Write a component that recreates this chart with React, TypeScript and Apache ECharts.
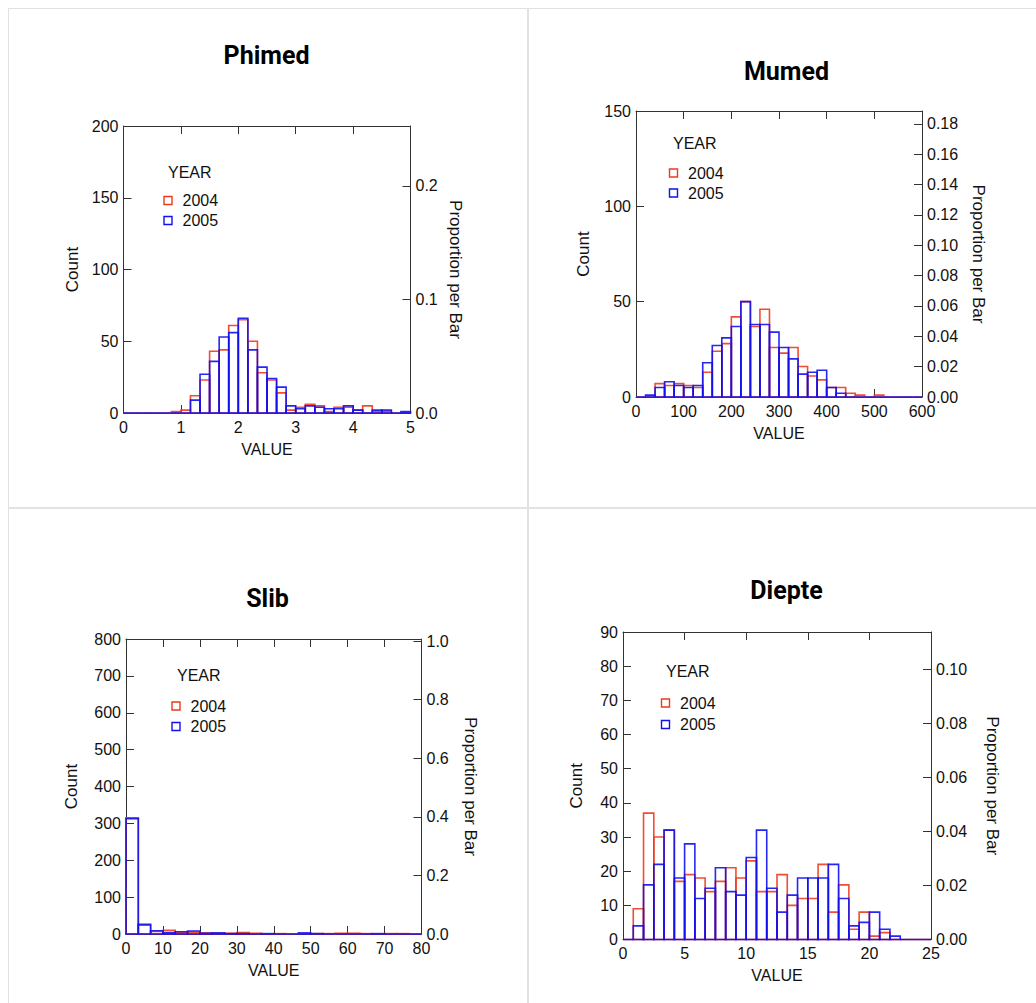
import React, { useEffect, useRef } from "react";
import * as echarts from "echarts";

// ---------- DATA ----------
const YEARS = ["2004", "2005"];

// Phimed: 30 bins of width 1/6 from 0 to 5
const PHIMED_BIN_WIDTH = 1 / 6;
const PHIMED_2004 = [0, 0, 0, 0, 0, 1, 2, 12, 23, 43, 44, 61, 65, 50, 28, 23, 14, 2, 4, 6, 5, 1, 4, 4, 2, 5, 1, 1, 0, 0];
const PHIMED_2005 = [0, 0, 0, 0, 0, 0, 0, 9, 27, 36, 53, 56, 66, 44, 32, 24, 18, 5, 3, 5, 4, 3, 3, 5, 2, 0, 2, 2, 0, 1];

// Mumed: 30 bins of width 20 from 0 to 600
const MUMED_BIN_WIDTH = 20;
const MUMED_2004 = [0, 0, 7, 6, 7, 6, 5, 13, 24, 28, 42, 50, 37, 46, 26, 23, 26, 16, 11, 9, 5, 5, 2, 1, 0, 1, 0, 0, 0, 0];
const MUMED_2005 = [0, 1, 5, 8, 6, 5, 6, 18, 27, 31, 37, 50, 38, 38, 34, 26, 20, 12, 13, 14, 5, 2, 0, 0, 0, 0, 0, 0, 0, 0];

// Slib: 24 bins of width 10/3 from 0 to 80
const SLIB_BIN_WIDTH = 10 / 3;
const SLIB_2004 = [315, 24, 7, 10, 4, 5, 3, 2, 2, 4, 2, 0, 1, 0, 0, 1, 1, 2, 2, 1, 0, 1, 1, 0];
const SLIB_2005 = [313, 26, 9, 4, 6, 8, 2, 3, 1, 1, 0, 1, 0, 0, 3, 1, 0, 0, 0, 0, 1, 0, 0, 0];

// Diepte: 30 bins of width 5/6 from 0 to 25
const DIEPTE_BIN_WIDTH = 5 / 6;
const DIEPTE_2004 = [0, 9, 37, 30, 32, 17, 19, 18, 14, 17, 21, 18, 23, 14, 14, 19, 10, 12, 12, 22, 8, 16, 3, 8, 1, 2, 0, 0, 0, 0];
const DIEPTE_2005 = [0, 4, 16, 22, 32, 18, 28, 12, 15, 21, 14, 13, 24, 32, 15, 8, 13, 18, 18, 18, 22, 12, 4, 5, 8, 3, 1, 0, 0, 0];

// Axis scales [min, max, interval, (decimals)]
const PHIMED_X = [0, 5, 1];
const PHIMED_Y = [0, 200, 50];
const PHIMED_P = [0, 0.2527, 0.1, 1];
const MUMED_X = [0, 600, 100];
const MUMED_Y = [0, 150, 50];
const MUMED_P = [0, 0.1885, 0.02, 2];
const SLIB_X = [0, 80, 10];
const SLIB_Y = [0, 800, 100];
const SLIB_P = [0, 1.007, 0.2, 1];
const DIEPTE_X = [0, 25, 5];
const DIEPTE_Y = [0, 90, 10];
const DIEPTE_P = [0, 0.1138, 0.02, 2];

// ---------- STYLE / LAYOUT ----------
const RED = "#ee3a1c";
const BLUE = "#1010f2";
const AXIS = "#333333";
const TEXT = "#111111";
const FONT = "'Liberation Sans', Arial, sans-serif";

type Panel = {
  title: string;
  titleX: number;
  titleY: number;
  grid: { left: number; top: number; width: number; height: number };
  x: number[];
  y: number[];
  p: number[];
  bin: number;
  a: number[];
  b: number[];
  countGap: number;
  propGap: number;
  leg: { x: number; yearY: number; y1: number; y2: number; yearX: number };
};

const PANELS: Panel[] = [
  {
    title: "Phimed", titleX: 266.5, titleY: 55,
    grid: { left: 123.5, top: 126, width: 287, height: 287 },
    x: PHIMED_X, y: PHIMED_Y, p: PHIMED_P, bin: PHIMED_BIN_WIDTH, a: PHIMED_2004, b: PHIMED_2005,
    countGap: 43, propGap: 36,
    leg: { x: 164, yearX: 168, yearY: 172, y1: 200.5, y2: 220.5 },
  },
  {
    title: "Mumed", titleX: 786.5, titleY: 71,
    grid: { left: 636, top: 111, width: 286, height: 286 },
    x: MUMED_X, y: MUMED_Y, p: MUMED_P, bin: MUMED_BIN_WIDTH, a: MUMED_2004, b: MUMED_2005,
    countGap: 44, propGap: 48,
    leg: { x: 669.5, yearX: 673, yearY: 143, y1: 173, y2: 193 },
  },
  {
    title: "Slib", titleX: 267.5, titleY: 598,
    grid: { left: 126, top: 639, width: 295.5, height: 295 },
    x: SLIB_X, y: SLIB_Y, p: SLIB_P, bin: SLIB_BIN_WIDTH, a: SLIB_2004, b: SLIB_2005,
    countGap: 46, propGap: 40,
    leg: { x: 172, yearX: 177, yearY: 675.5, y1: 706, y2: 726.5 },
  },
  {
    title: "Diepte", titleX: 786.5, titleY: 590,
    grid: { left: 623, top: 632, width: 308, height: 307.5 },
    x: DIEPTE_X, y: DIEPTE_Y, p: DIEPTE_P, bin: DIEPTE_BIN_WIDTH, a: DIEPTE_2004, b: DIEPTE_2005,
    countGap: 38, propGap: 53,
    leg: { x: 661.5, yearX: 666, yearY: 671.5, y1: 703, y2: 724.5 },
  },
];

function binData(counts: number[], width: number) {
  return counts.map((c, i) => [i * width, (i + 1) * width, c]);
}

function makeRender(color: string) {
  return (params: any, api: any) => {
    const lo = api.value(0) as number;
    const hi = api.value(1) as number;
    const c = api.value(2) as number;
    const p0 = api.coord([lo, 0]);
    const p1 = api.coord([hi, c]);
    return {
      type: "polygon",
      shape: {
        points: [
          [p0[0], p0[1]],
          [p0[0], p1[1]],
          [p1[0], p1[1]],
          [p1[0], p0[1]],
        ],
      },
      style: { fill: "none", stroke: color, lineWidth: 1.6, opacity: 0.9 },
    };
  };
}

const baseAxis = {
  axisLine: { show: true, onZero: false, lineStyle: { color: AXIS, width: 1 } },
  axisTick: { show: true, inside: true, length: 8, lineStyle: { color: AXIS, width: 1 } },
  splitLine: { show: false },
};

function buildOption() {
  const grid: any[] = [];
  const xAxis: any[] = [];
  const yAxis: any[] = [];
  const series: any[] = [];
  const graphic: any[] = [];

  // cell borders
  const border = "#e2e2e2";
  graphic.push(
    { type: "line", silent: true, shape: { x1: 8.5, y1: 8, x2: 8.5, y2: 1003 }, style: { stroke: border, lineWidth: 1 } },
    { type: "line", silent: true, shape: { x1: 8, y1: 8.5, x2: 1036, y2: 8.5 }, style: { stroke: border, lineWidth: 1 } },
    { type: "line", silent: true, shape: { x1: 528, y1: 8, x2: 528, y2: 1003 }, style: { stroke: border, lineWidth: 2 } },
    { type: "line", silent: true, shape: { x1: 8, y1: 508, x2: 1036, y2: 508 }, style: { stroke: border, lineWidth: 2 } }
  );

  PANELS.forEach((pn, i) => {
    grid.push({ ...pn.grid, containLabel: false });
    const [xmin, xmax, xint] = pn.x;
    const [ymin, ymax, yint] = pn.y;
    const [pmin, pmax, pint, pdec] = pn.p;
    xAxis.push({
      ...baseAxis,
      type: "value",
      gridIndex: i,
      position: "bottom",
      min: xmin,
      max: xmax,
      interval: xint,
      name: "VALUE",
      nameLocation: "middle",
      nameGap: 28,
      nameTextStyle: { color: TEXT, fontSize: 16, fontFamily: FONT },
      axisLabel: { color: TEXT, fontSize: 16, fontFamily: FONT, margin: 6 },
    });
    xAxis.push({
      ...baseAxis,
      type: "value",
      gridIndex: i,
      position: "top",
      min: xmin,
      max: xmax,
      interval: xint,
      axisLabel: { show: false },
    });
    yAxis.push({
      ...baseAxis,
      type: "value",
      gridIndex: i,
      position: "left",
      min: ymin,
      max: ymax,
      interval: yint,
      name: "Count",
      nameLocation: "middle",
      nameRotate: 90,
      nameGap: pn.countGap,
      nameTextStyle: { color: TEXT, fontSize: 17, fontFamily: FONT },
      axisLabel: { color: TEXT, fontSize: 16, fontFamily: FONT, margin: 5 },
    });
    yAxis.push({
      ...baseAxis,
      type: "value",
      gridIndex: i,
      position: "right",
      min: pmin,
      max: pmax,
      interval: pint,
      name: "Proportion per Bar",
      nameLocation: "middle",
      nameRotate: -90,
      nameGap: pn.propGap,
      nameTextStyle: { color: TEXT, fontSize: 17, fontFamily: FONT },
      axisLabel: {
        color: TEXT,
        fontSize: 16,
        fontFamily: FONT,
        margin: 5,
        formatter: (v: number) => {
          const k = v / pint;
          return Math.abs(k - Math.round(k)) < 1e-6 ? v.toFixed(pdec) : "";
        },
      },
    });

    const xIdx = i * 2;
    const yIdx = i * 2;
    series.push({
      type: "custom",
      name: YEARS[0],
      xAxisIndex: xIdx,
      yAxisIndex: yIdx,
      data: binData(pn.a, pn.bin),
      encode: { x: [0, 1], y: 2 },
      renderItem: makeRender(RED),
      silent: true,
    });
    series.push({
      type: "custom",
      name: YEARS[1],
      xAxisIndex: xIdx,
      yAxisIndex: yIdx,
      data: binData(pn.b, pn.bin),
      encode: { x: [0, 1], y: 2 },
      renderItem: makeRender(BLUE),
      silent: true,
    });

    // title
    graphic.push({
      type: "text",
      silent: true,
      x: pn.titleX,
      y: pn.titleY,
      style: {
        text: pn.title,
        fill: "#000",
        fontSize: 25,
        fontWeight: "bold",
        fontFamily: "Roboto, 'Liberation Sans', sans-serif",
        align: "center",
        verticalAlign: "middle",
      },
    });

    // legend
    const L = pn.leg;
    graphic.push({
      type: "text",
      silent: true,
      x: L.yearX,
      y: L.yearY,
      style: { text: "YEAR", fill: TEXT, fontSize: 16, fontFamily: FONT, align: "left", verticalAlign: "middle" },
    });
    [L.y1, L.y2].forEach((yy, k) => {
      graphic.push({
        type: "rect",
        silent: true,
        shape: { x: L.x, y: yy - 4, width: 8, height: 8 },
        style: { fill: "none", stroke: k === 0 ? RED : BLUE, lineWidth: 1.4 },
      });
      graphic.push({
        type: "text",
        silent: true,
        x: L.x + 18.5,
        y: yy,
        style: { text: YEARS[k], fill: TEXT, fontSize: 16, fontFamily: FONT, align: "left", verticalAlign: "middle" },
      });
    });
  });

  return {
    animation: false,
    backgroundColor: "#ffffff",
    grid,
    xAxis,
    yAxis,
    series,
    graphic,
  };
}

export default function App() {
  const ref = useRef<HTMLDivElement>(null);
  useEffect(() => {
    if (!ref.current) return;
    const chart = echarts.init(ref.current, undefined, { renderer: "svg" });
    chart.setOption(buildOption() as any);
    return () => chart.dispose();
  }, []);
  return (
    <div
      ref={ref}
      style={{ position: "absolute", left: 0, top: 0, width: 1036, height: 1003, background: "#fff" }}
    />
  );
}
